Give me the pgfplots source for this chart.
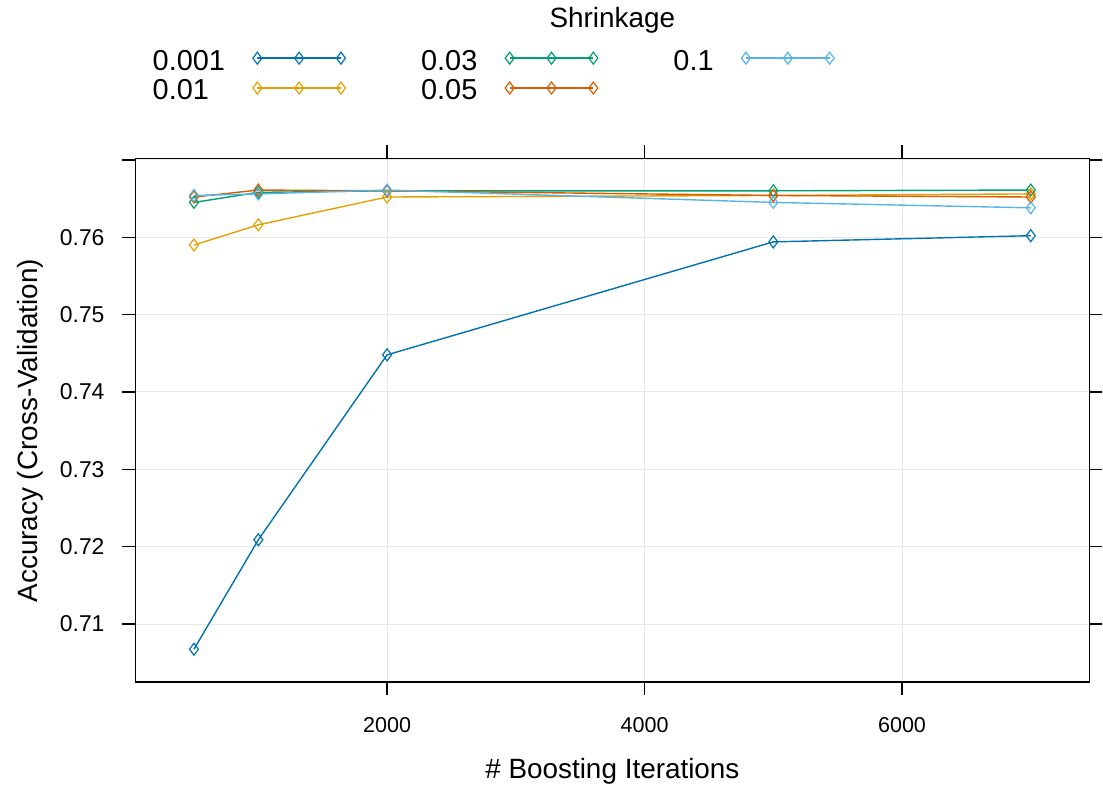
\documentclass[border=0pt]{standalone}
\usepackage{fontspec}
\setmainfont{Liberation Sans}
\usepackage{pgfplots}
\pgfplotsset{compat=1.18}
\definecolor{cA}{HTML}{0072B2}
\definecolor{cB}{HTML}{E69F00}
\definecolor{cC}{HTML}{009E73}
\definecolor{cD}{HTML}{D55E00}
\definecolor{cE}{HTML}{56B4E9}
\pgfplotsset{
  ser/.style={color=#1, line width=0.7pt, mark=diamond, mark size=3pt, mark options={solid, line width=0.6pt, fill=none}},
}
\begin{document}
\begin{tikzpicture}
\begin{axis}[
  scale only axis,
  width=479pt, height=263pt,
  xmin=45, xmax=7455,
  ymin=0.7025, ymax=0.7702,
  clip=false,
  axis line style={line width=0.8pt},
  tick style={line width=0.7pt, black},
  major tick length=6.5pt,
  tick align=outside,
  tick pos=both,
  xticklabel pos=lower,
  yticklabel pos=left,
  xtick={2000,4000,6000},
  ytick={0.71,0.72,0.73,0.74,0.75,0.76,0.77},
  yticklabels={0.71,0.72,0.73,0.74,0.75,0.76,{}},
  xticklabels={2000,4000,6000},
  grid=major,
  grid style={color=black!9, line width=0.5pt},
  xticklabel style={font=\fontsize{10.8}{12}\selectfont, yshift=-7.5pt},
  yticklabel style={font=\fontsize{11.5}{13}\selectfont, xshift=-5.5pt},
  xlabel={\# Boosting Iterations},
  ylabel={Accuracy (Cross-Validation)},
  label style={font=\fontsize{14}{16}\selectfont},
  xlabel style={at={(axis description cs:0.5,-0.171)}, anchor=center},
  ylabel style={at={(axis description cs:-0.1106,0.48)}, anchor=center},
  legend columns=3,
  legend plot pos=right,
  legend cell align=left,
  legend style={draw=none, fill=none, inner sep=0pt,
    at={(axis description cs:0.0177,1.211)}, anchor=north west,
    font=\fontsize{14.5}{15}\selectfont,
    nodes={inner sep=0pt, text height=11pt, text depth=4pt},
    /tikz/every odd column/.append style={column sep=14pt},
    /tikz/every even column/.append style={column sep=38pt},
    row sep=0pt},
  legend image code/.code={\draw[#1] plot coordinates {(0pt,2.5pt) (21pt,2.5pt) (42pt,2.5pt)};},
]
\addplot[ser=cA, forget plot] coordinates {(500,0.70675) (1000,0.7209) (2000,0.7448) (5000,0.7594) (7000,0.7602)};
\addplot[ser=cB, forget plot] coordinates {(500,0.7590) (1000,0.7616) (2000,0.7652) (5000,0.7654) (7000,0.7656)};
\addplot[ser=cC, forget plot] coordinates {(500,0.7645) (1000,0.7658) (2000,0.7660) (5000,0.7660) (7000,0.7661)};
\addplot[ser=cD, forget plot] coordinates {(500,0.7652) (1000,0.7661) (2000,0.7660) (5000,0.7654) (7000,0.7652)};
\addplot[ser=cE, forget plot] coordinates {(500,0.7654) (1000,0.7656) (2000,0.7661) (5000,0.7645) (7000,0.7638)};
\addlegendimage{ser=cA}\addlegendentry{0.001}
\addlegendimage{ser=cC}\addlegendentry{0.03}
\addlegendimage{ser=cE}\addlegendentry{0.1}
\addlegendimage{ser=cB}\addlegendentry{0.01}
\addlegendimage{ser=cD}\addlegendentry{0.05}
\node[font=\fontsize{14}{16}\selectfont] at (axis description cs:0.5,1.2643) {Shrinkage};
\path (axis description cs:-0.14196,-0.21103) rectangle (axis description cs:1.009395,1.30228);
\end{axis}
\end{tikzpicture}
\end{document}
